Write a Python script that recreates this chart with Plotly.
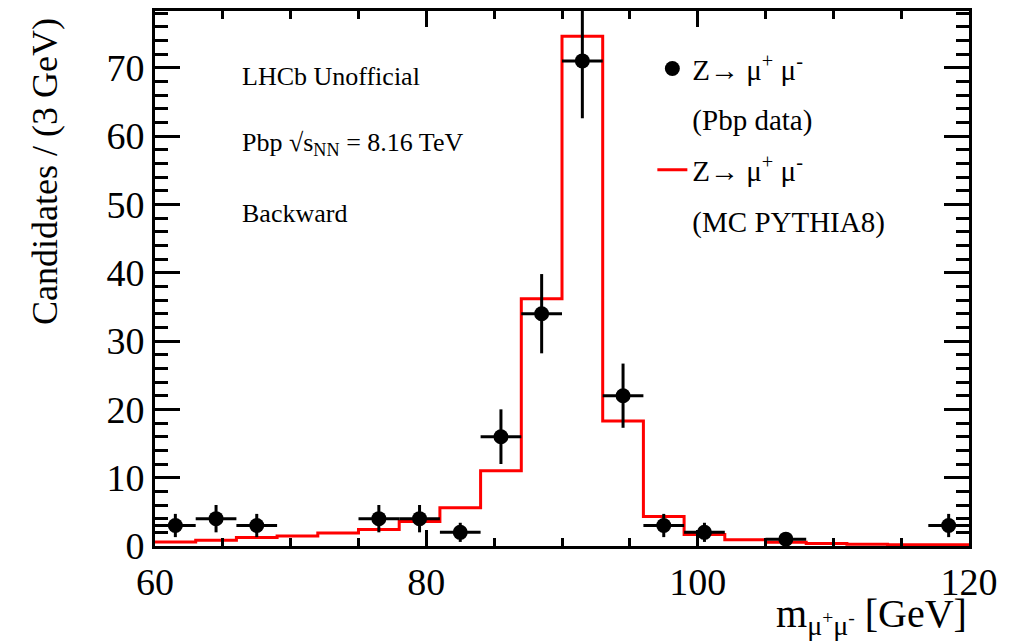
import plotly.graph_objects as go

# ---- data ----
bin_edges = [60, 63, 66, 69, 72, 75, 78, 81, 84, 87, 90, 93, 96, 99, 102, 105, 108, 111, 114, 117, 120]
mc_values = [0.6, 0.85, 1.25, 1.45, 1.9, 2.4, 3.6, 5.6, 11.0, 36.2, 74.6, 18.3, 4.3, 1.7, 0.9, 0.55, 0.35, 0.25, 0.2, 0.2]

data_centers = [61.5, 64.5, 67.5, 76.5, 79.5, 82.5, 85.5, 88.5, 91.5, 94.5, 97.5, 100.5, 106.5, 118.5]
data_counts = [3, 4, 3, 4, 4, 2, 16, 34, 71, 22, 3, 2, 1, 3]
data_errors = [1.7, 2.0, 1.7, 2.0, 2.0, 1.4, 4.0, 5.8, 8.4, 4.7, 1.7, 1.4, 1.0, 1.7]
bin_half_width = [1.5] * len(data_centers)

x_ticks = [60, 80, 100, 120]
y_ticks = [0, 10, 20, 30, 40, 50, 60, 70]

FONT = "Liberation Serif, Times New Roman, serif"

fig = go.Figure()

# MC histogram (step line)
fig.add_trace(go.Scatter(
    x=bin_edges, y=mc_values + [mc_values[-1]],
    mode="lines", line=dict(color="#ff0000", width=3, shape="hv"),
    name="Z\u2192 \u03bc<sup>+</sup> \u03bc<sup>-</sup>",
    legendgroup="g3", legendrank=3,
))
fig.add_trace(go.Scatter(
    x=[None], y=[None], mode="lines", line=dict(color="rgba(0,0,0,0)", width=0),
    name="(MC PYTHIA8)", legendgroup="g4", legendrank=4,
))

# Data points
fig.add_trace(go.Scatter(
    x=data_centers, y=data_counts, mode="markers",
    marker=dict(color="black", size=15, symbol="circle"),
    error_y=dict(type="data", array=data_errors, color="black", thickness=3, width=0),
    error_x=dict(type="data", array=bin_half_width, color="black", thickness=3, width=0),
    name="Z\u2192 \u03bc<sup>+</sup> \u03bc<sup>-</sup>",
    legendgroup="g1", legendrank=1,
))
fig.add_trace(go.Scatter(
    x=[None], y=[None], mode="lines", line=dict(color="rgba(0,0,0,0)", width=0),
    name="(Pbp data)", legendgroup="g2", legendrank=2,
))

axis_common = dict(
    showline=True, linecolor="black", linewidth=3, mirror="ticks",
    ticks="inside", tickcolor="black", tickwidth=2.5,
    showgrid=False, zeroline=False,
    tickfont=dict(family=FONT, size=38, color="black"),
)

fig.update_xaxes(
    range=[60, 120], tickvals=x_ticks, ticklen=16,
    minor=dict(dtick=5, tick0=60, ticks="inside", ticklen=8, tickwidth=2.5, tickcolor="black"),
    **axis_common,
)
fig.update_yaxes(
    range=[0, 78.3], tickvals=y_ticks, ticklen=25,
    minor=dict(dtick=2, tick0=0, ticks="inside", ticklen=13, tickwidth=2.5, tickcolor="black"),
    **axis_common,
)

annotations = [
    dict(text="m<sub>\u03bc<sup>+</sup>\u03bc<sup>-</sup></sub> [GeV]", x=1.0, y=-0.08,
         xref="paper", yref="paper", xanchor="right", yanchor="top", showarrow=False,
         font=dict(family=FONT, size=40, color="black")),
    dict(text="Candidates / (3 GeV)", x=-0.135, y=0.99, textangle=-90,
         xref="paper", yref="paper", xanchor="center", yanchor="top", showarrow=False,
         font=dict(family=FONT, size=36, color="black")),
    dict(text="LHCb Unofficial", x=0.105, y=0.877, xref="paper", yref="paper",
         xanchor="left", yanchor="middle", showarrow=False,
         font=dict(family=FONT, size=26, color="black")),
    dict(text="Pbp \u221as<sub>NN</sub> = 8.16 TeV",
         x=0.105, y=0.752, xref="paper", yref="paper",
         xanchor="left", yanchor="middle", showarrow=False,
         font=dict(family=FONT, size=26, color="black")),
    dict(text="Backward", x=0.105, y=0.622, xref="paper", yref="paper",
         xanchor="left", yanchor="middle", showarrow=False,
         font=dict(family=FONT, size=26, color="black")),
]

# the page body adds an 8px offset; width/height/margins compensate for it
fig.update_layout(
    width=1004, height=633,
    margin=dict(l=147, r=43, t=0, b=95),
    plot_bgcolor="white", paper_bgcolor="white",
    showlegend=True,
    legend=dict(x=0.611, y=0.94, xanchor="left", yanchor="top",
                font=dict(family=FONT, size=29, color="black"),
                bgcolor="rgba(0,0,0,0)", tracegroupgap=10, traceorder="grouped"),
    annotations=annotations,
)

fig.write_html("out.html")
